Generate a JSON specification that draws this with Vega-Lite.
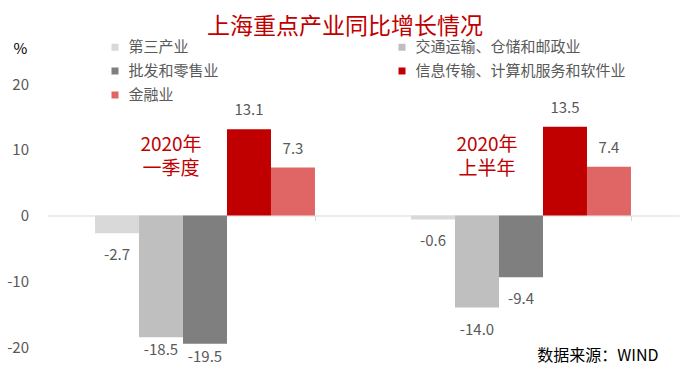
{
  "$schema": "https://vega.github.io/schema/vega-lite/v6.json",
  "width": 632,
  "height": 263,
  "autosize": {"type": "none"},
  "padding": {"left": 47, "top": 84, "right": 4, "bottom": 25},
  "background": "white",
  "config": {
    "view": {"stroke": null},
    "font": "Noto Sans CJK SC",
    "locale": {"number": {"decimal": ".", "thousands": ",", "grouping": [3], "currency": ["$", ""], "minus": "-"}}
  },
  "title": {"text": "上海重点产业同比增长情况", "color": "#c00000", "fontSize": 23, "fontWeight": "normal", "anchor": "middle", "frame": "group", "dx": -18, "offset": 1},
  "datasets": {
    "bars": [
      {"group": "2020年一季度", "industry": "第三产业", "value": -2.7},
      {"group": "2020年一季度", "industry": "交通运输、仓储和邮政业", "value": -18.5},
      {"group": "2020年一季度", "industry": "批发和零售业", "value": -19.5},
      {"group": "2020年一季度", "industry": "信息传输、计算机服务和软件业", "value": 13.1},
      {"group": "2020年一季度", "industry": "金融业", "value": 7.3},
      {"group": "2020年上半年", "industry": "第三产业", "value": -0.6},
      {"group": "2020年上半年", "industry": "交通运输、仓储和邮政业", "value": -14.0},
      {"group": "2020年上半年", "industry": "批发和零售业", "value": -9.4},
      {"group": "2020年上半年", "industry": "信息传输、计算机服务和软件业", "value": 13.5},
      {"group": "2020年上半年", "industry": "金融业", "value": 7.4}
    ],
    "labels": [
      {"group": "2020年一季度", "text": "2020年\n一季度", "y": 10.7},
      {"group": "2020年上半年", "text": "2020年\n上半年", "y": 10.7}
    ]
  },
  "encoding": {
    "x": {
      "field": "group", "type": "nominal", "sort": ["2020年一季度", "2020年上半年"],
      "scale": {"paddingInner": 0.304, "paddingOuter": 0.152},
      "axis": {
        "title": "数据来源：WIND", "labels": false, "domain": true, "domainColor": "#d9d9d9", "ticks": true,
        "tickColor": "#d9d9d9", "tickSize": 5, "tickBand": "extent", "offset": -131.5, "grid": false,
        "titleX": 611, "titleY": 139.5, "titleAlign": "right", "titleBaseline": "middle", "titleAnchor": null,
        "titleFontSize": 16, "titleFontWeight": "normal", "titleColor": "#000000"
      }
    },
    "y": {
      "type": "quantitative",
      "scale": {"domain": [-20, 20], "nice": false},
      "axis": {
        "values": [-20, -10, 0, 10, 20], "grid": false, "domain": false, "ticks": false,
        "labelPadding": 18.5, "labelFontSize": 15, "labelColor": "#595959",
        "title": "%", "titleAngle": 0, "titleX": -27, "titleY": -36, "titleAlign": "center", "titleBaseline": "middle",
        "titleFontSize": 15, "titleFontWeight": "normal", "titleColor": "#000000"
      }
    }
  },
  "layer": [
    {
      "data": {"name": "bars"},
      "mark": {"type": "bar"},
      "encoding": {
        "y": {"field": "value"},
        "xOffset": {"field": "industry", "type": "nominal", "sort": ["第三产业", "交通运输、仓储和邮政业", "批发和零售业", "信息传输、计算机服务和软件业", "金融业"], "scale": {"paddingInner": 0, "paddingOuter": 0}},
        "color": {
          "field": "industry", "type": "nominal",
          "scale": {"domain": ["第三产业", "交通运输、仓储和邮政业", "批发和零售业", "信息传输、计算机服务和软件业", "金融业"], "range": ["#d9d9d9", "#bfbfbf", "#7f7f7f", "#c00000", "#e06666"]},
          "legend": {
            "title": null, "orient": "none", "legendX": 60.5, "legendY": -44.5, "columns": 2, "direction": "horizontal",
            "symbolType": "square", "symbolSize": 49, "symbolStrokeWidth": 0, "labelFontSize": 15, "labelColor": "#595959",
            "labelOffset": 6, "rowPadding": 8, "columnPadding": 175, "padding": 0, "labelLimit": 400
          }
        }
      }
    },
    {
      "data": {"name": "bars"},
      "transform": [{"filter": "datum.value > 0"}],
      "mark": {"type": "text", "baseline": "middle", "dy": -19, "fontSize": 15, "color": "#595959"},
      "encoding": {
        "y": {"field": "value"},
        "xOffset": {"field": "industry", "type": "nominal", "sort": ["第三产业", "交通运输、仓储和邮政业", "批发和零售业", "信息传输、计算机服务和软件业", "金融业"]},
        "text": {"field": "value", "type": "quantitative", "format": ".1f"}
      }
    },
    {
      "data": {"name": "bars"},
      "transform": [{"filter": "datum.value < 0 && datum.value > -17"}],
      "mark": {"type": "text", "baseline": "middle", "dy": 22, "fontSize": 15, "color": "#595959"},
      "encoding": {
        "y": {"field": "value"},
        "xOffset": {"field": "industry", "type": "nominal", "sort": ["第三产业", "交通运输、仓储和邮政业", "批发和零售业", "信息传输、计算机服务和软件业", "金融业"]},
        "text": {"field": "value", "type": "quantitative", "format": ".1f"}
      }
    },
    {
      "data": {"name": "bars"},
      "transform": [{"filter": "datum.value <= -17"}],
      "mark": {"type": "text", "baseline": "middle", "dy": 13, "fontSize": 15, "color": "#595959"},
      "encoding": {
        "y": {"field": "value"},
        "xOffset": {"field": "industry", "type": "nominal", "sort": ["第三产业", "交通运输、仓储和邮政业", "批发和零售业", "信息传输、计算机服务和软件业", "金融业"]},
        "text": {"field": "value", "type": "quantitative", "format": ".1f"}
      }
    },
    {
      "data": {"name": "labels"},
      "mark": {"type": "text", "baseline": "middle", "dx": -34, "fontSize": 19, "color": "#c00000", "lineBreak": "\n", "lineHeight": 24},
      "encoding": {
        "y": {"field": "y"},
        "text": {"field": "text", "type": "nominal"}
      }
    }
  ]
}
